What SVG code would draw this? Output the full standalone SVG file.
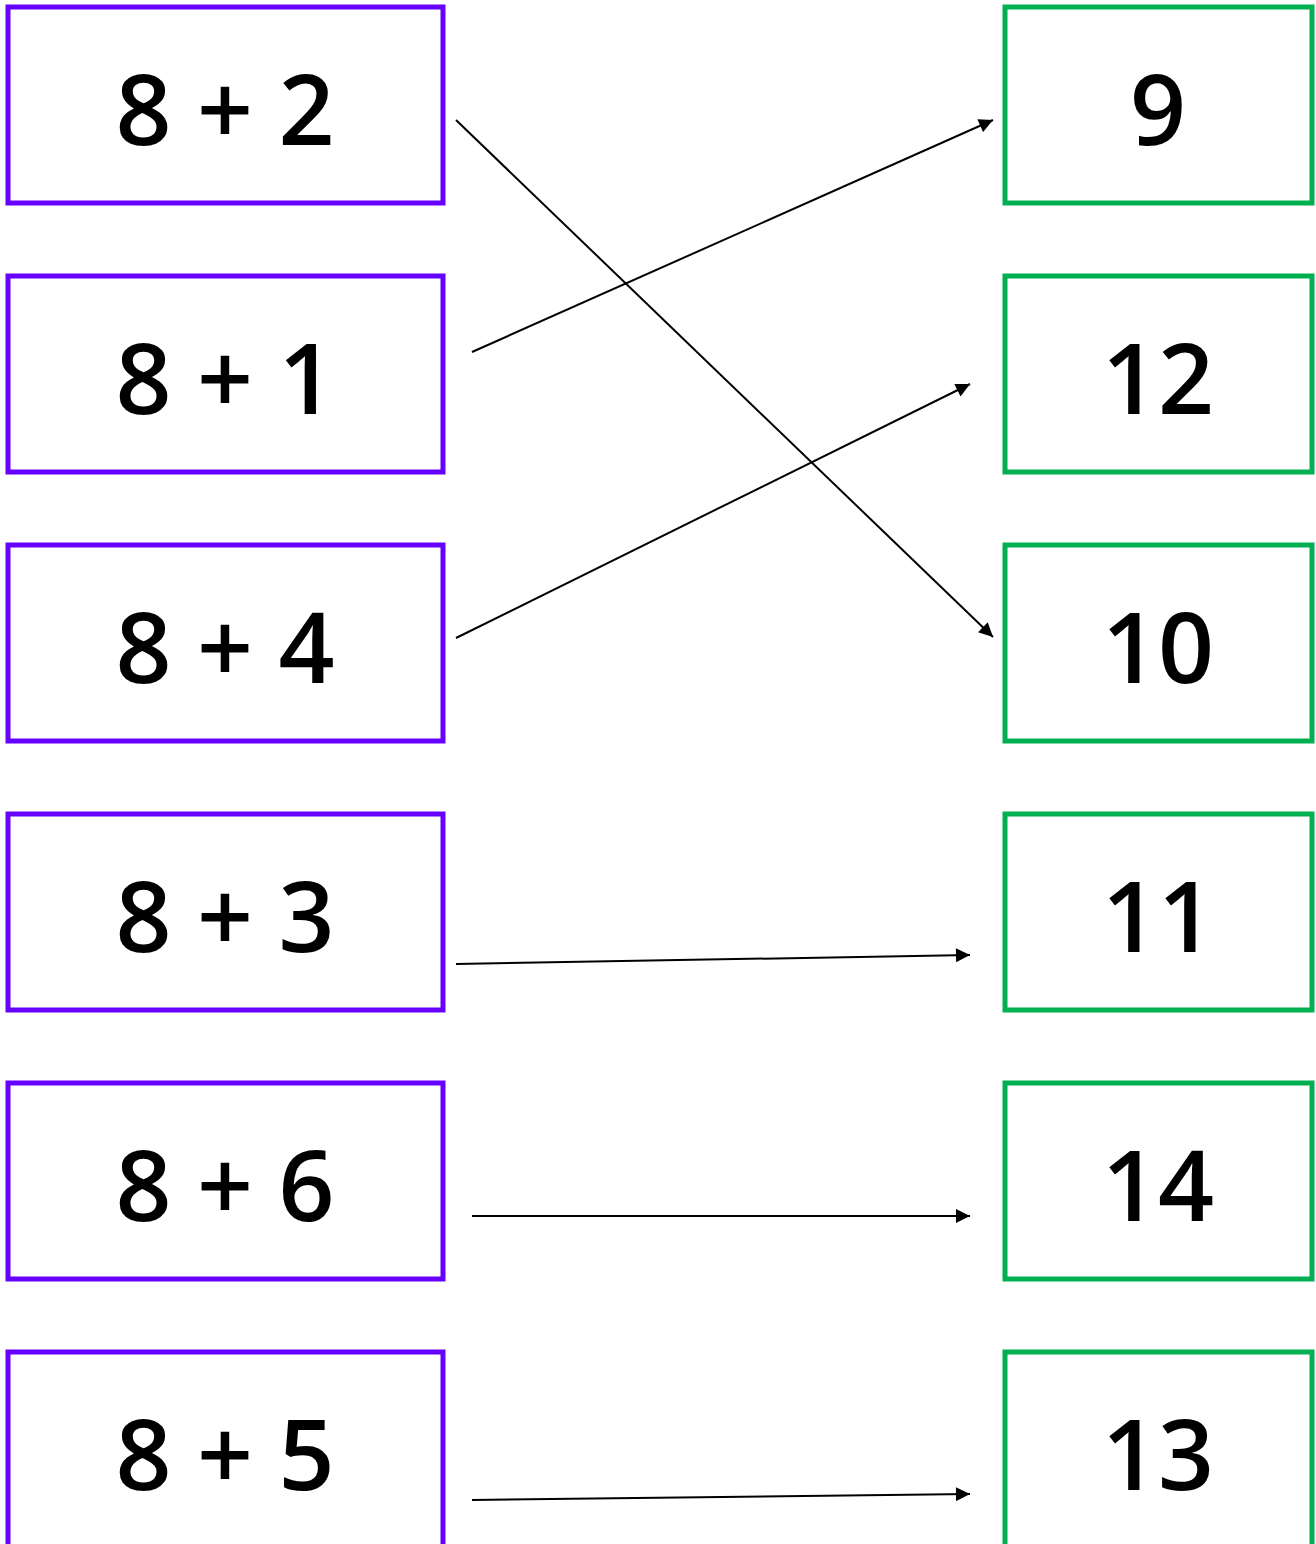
<svg xmlns="http://www.w3.org/2000/svg" width="1316" height="1544" viewBox="0 0 1316 1544">
<style>
.l{fill:#fff;stroke:#6600FF;stroke-width:5}
.r{fill:#fff;stroke:#00B050;stroke-width:5}
.t{font-family:"Open Sans","DejaVu Sans",sans-serif;font-size:98px;font-weight:600;fill:#000;text-anchor:middle}
.c{stroke:#000;stroke-width:2;fill:none;marker-end:url(#ah)}
</style>
<defs>
<marker id="ah" viewBox="0 0 10 10" refX="10" refY="5" markerWidth="8" markerHeight="7" markerUnits="strokeWidth" orient="auto">
<path d="M0,0 L10,5 L0,10 z" fill="#000"/>
</marker>
</defs>
<rect width="1316" height="1544" fill="#fff"/>
<g id="n82"><rect class="l" x="8" y="7" width="435" height="196"/><text class="t" x="225" y="145">8 + 2</text></g>
<g id="n81"><rect class="l" x="8" y="276" width="435" height="196"/><text class="t" x="225" y="414">8 + 1</text></g>
<g id="n84"><rect class="l" x="8" y="545" width="435" height="196"/><text class="t" x="225" y="683">8 + 4</text></g>
<g id="n83"><rect class="l" x="8" y="814" width="435" height="196"/><text class="t" x="225" y="952">8 + 3</text></g>
<g id="n86"><rect class="l" x="8" y="1083" width="435" height="196"/><text class="t" x="225" y="1221">8 + 6</text></g>
<g id="n85"><rect class="l" x="8" y="1352" width="435" height="196"/><text class="t" x="225" y="1490">8 + 5</text></g>
<g id="r9"><rect class="r" x="1005" y="7" width="307" height="196"/><text class="t" x="1158" y="145">9</text></g>
<g id="r12"><rect class="r" x="1005" y="276" width="307" height="196"/><text class="t" x="1158" y="414">12</text></g>
<g id="r10"><rect class="r" x="1005" y="545" width="307" height="196"/><text class="t" x="1158" y="683">10</text></g>
<g id="r11"><rect class="r" x="1005" y="814" width="307" height="196"/><text class="t" x="1158" y="952">11</text></g>
<g id="r14"><rect class="r" x="1005" y="1083" width="307" height="196"/><text class="t" x="1158" y="1221">14</text></g>
<g id="r13"><rect class="r" x="1005" y="1352" width="307" height="196"/><text class="t" x="1158" y="1490">13</text></g>
<g id="connectors">
<line class="c" x1="456" y1="120" x2="993" y2="637"/>
<line class="c" x1="472" y1="352" x2="993" y2="120"/>
<line class="c" x1="456" y1="638" x2="970" y2="384"/>
<line class="c" x1="456" y1="964" x2="970" y2="955"/>
<line class="c" x1="472" y1="1216" x2="970" y2="1216"/>
<line class="c" x1="472" y1="1500" x2="970" y2="1494"/>
</g>
</svg>
